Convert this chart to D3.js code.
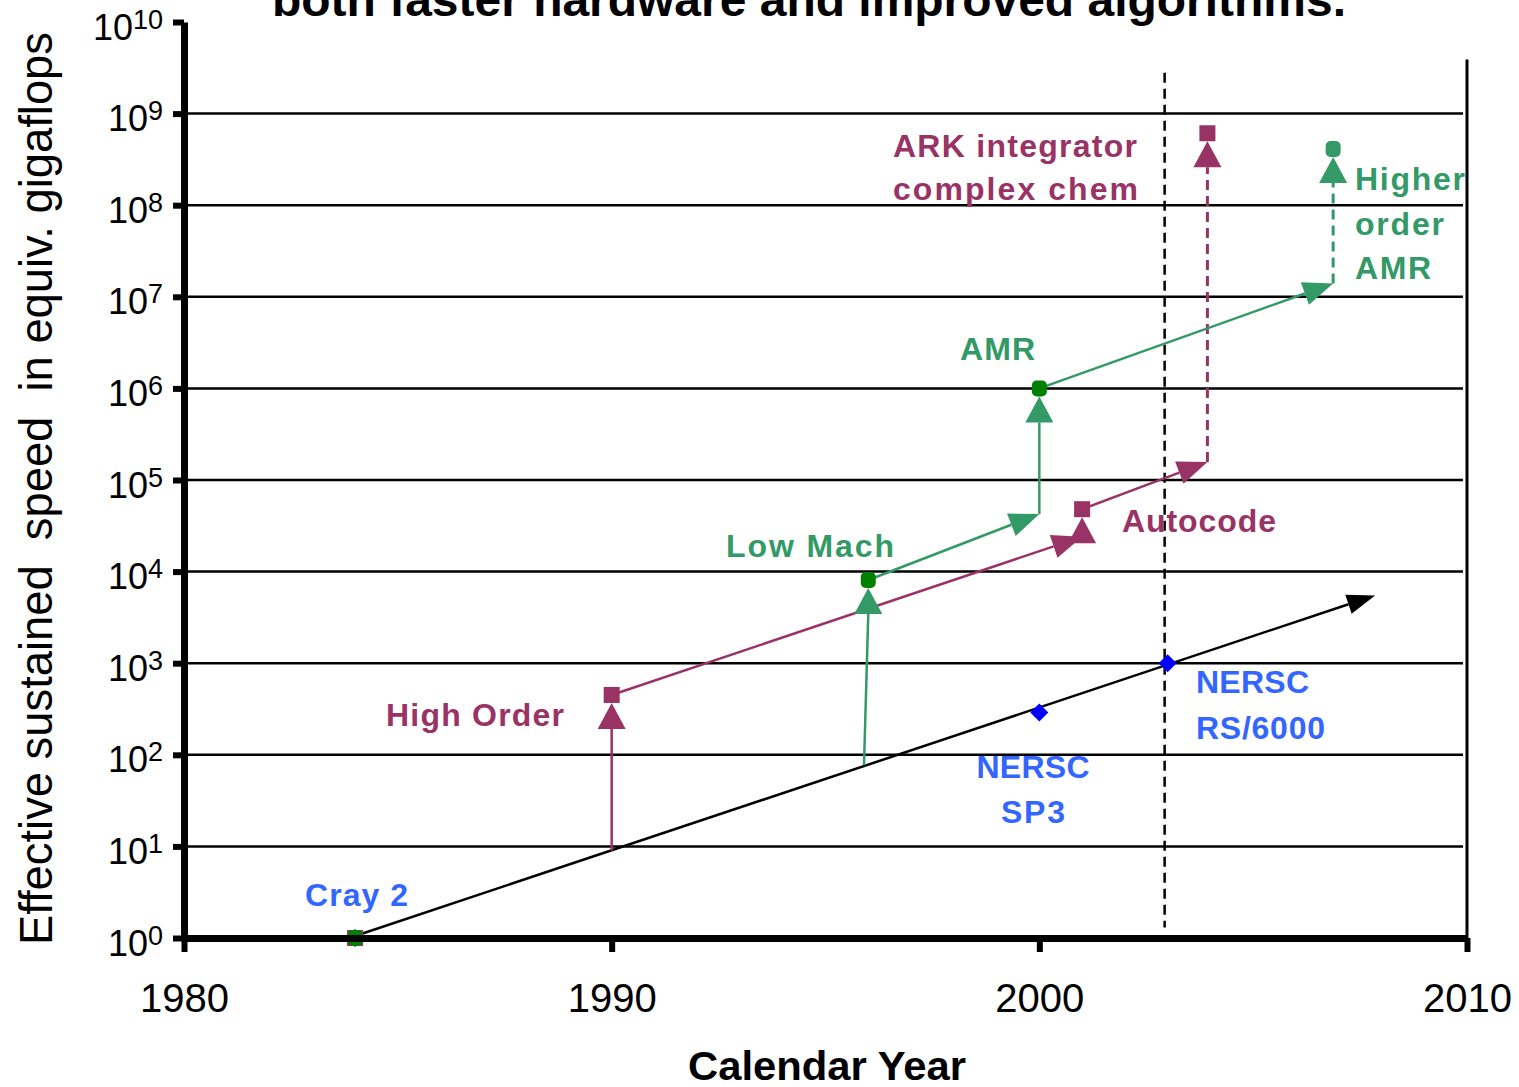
<!DOCTYPE html>
<html><head><meta charset="utf-8">
<script src="https://cdn.jsdelivr.net/npm/d3@7"></script>
<style>
html,body{margin:0;padding:0;background:#fff;}
svg{display:block;}
text{font-family:"Liberation Sans",Arial,Helvetica,sans-serif;}
</style></head><body>
<svg id="chart" width="1519" height="1087"></svg>
<script>
// ---------- data ----------
const yearTicks = [1980, 1990, 2000, 2010];
const decadeExponents = [0,1,2,3,4,5,6,7,8,9,10];
const hardwareYears = [1984, 2007.85];
const hardwareValues = [1, 5500];
const machineNames = [["Cray 2"], ["NERSC", "SP3"], ["NERSC", "RS/6000"]];
const machineYears = [1984, 2000, 2003];
const machineValues = [1, 290, 1000];
const highOrderYears = [1990, 1990, 2001, 2001, 2003.93, 2003.93];
const highOrderValues = [9, 450, 24000, 48000, 157000, 6.1e8];
const amrYears = [1995.9, 1996, 2000, 2000, 2006.87, 2006.87];
const amrValues = [77, 8100, 42600, 1e6, 1.4e7, 4.1e8];
const dividerYear = 2002.93;
const dividerValues = [1.3, 2.8e9];
const titleText = "both faster hardware and improved algorithms.";
const xTitle = "Calendar Year";
const yTitle = "Effective sustained  speed  in equiv. gigaflops";
const magentaLabels = [["High Order"], ["Autocode"], ["ARK integrator", "complex chem"]];
const greenLabels = [["Low Mach"], ["AMR"], ["Higher", "order", "AMR"]];

// ---------- layout / style ----------
const MAG = "#993366", GRN = "#339966", DKGRN = "#008000", BLUE_TXT = "#3366ff", BLUE = "#0000ff";
const svg = d3.select("#chart");
const x = d3.scaleLinear().domain([1980, 2010]).range([184, 1467]);
const y = d3.scaleLog().domain([1, 1e10]).range([938, 22]);

// title (partially cut at top, as in the reference)
svg.append("text").attr("x", 272).attr("y", 16)
  .attr("font-size", 46).attr("font-weight", "bold")
  .attr("textLength", 1074).attr("lengthAdjust", "spacingAndGlyphs")
  .text(titleText);

// gridlines
svg.append("g").selectAll("line")
  .data(decadeExponents.filter(e => e > 0 && e < 10))
  .join("line")
  .attr("x1", x(1980)).attr("x2", x(2010) - 4)
  .attr("y1", e => y(Math.pow(10, e))).attr("y2", e => y(Math.pow(10, e)))
  .attr("stroke", "#000").attr("stroke-width", 2.5);

// right frame
svg.append("line").attr("x1", x(2010)).attr("x2", x(2010))
  .attr("y1", y(3.9e9)).attr("y2", y(1))
  .attr("stroke", "#000").attr("stroke-width", 3);

// divider
svg.append("line").attr("x1", x(dividerYear)).attr("x2", x(dividerYear))
  .attr("y1", y(dividerValues[1])).attr("y2", y(dividerValues[0]))
  .attr("stroke", "#000").attr("stroke-width", 2.5).attr("stroke-dasharray", "10,6");

// helpers
function arrowHead(g, p1, p2, color, L, W) {
  const dx = p2[0] - p1[0], dy = p2[1] - p1[1];
  const len = Math.hypot(dx, dy);
  const ux = dx / len, uy = dy / len;
  const bx = p2[0] - ux * L, by = p2[1] - uy * L;
  const nx = -uy, ny = ux;
  g.append("path")
    .attr("d", `M${p2[0]},${p2[1]}L${bx + nx * W / 2},${by + ny * W / 2}L${bx - nx * W / 2},${by - ny * W / 2}Z`)
    .attr("fill", color);
  return [bx, by];
}
function upTriangle(g, cx, topY, color) {
  const apex = topY + 8, base = apex + 26;
  g.append("path").attr("d", `M${cx},${apex}L${cx + 14},${base}L${cx - 14},${base}Z`).attr("fill", color);
  return base;
}

// hardware line
const hw = svg.append("g");
{
  const p1 = [x(hardwareYears[0]), y(hardwareValues[0]) - 2];
  const p2 = [x(hardwareYears[1]), y(hardwareValues[1])];
  const b = arrowHead(hw, p1, p2, "#000", 28, 20);
  hw.append("line").attr("x1", p1[0]).attr("y1", p1[1]).attr("x2", b[0]).attr("y2", b[1])
    .attr("stroke", "#000").attr("stroke-width", 2.5);
}

// algorithm series
function drawSeries(years, values, color) {
  const g = svg.append("g");
  for (let i = 0; i < years.length - 1; i++) {
    const p1 = [x(years[i]), y(values[i])];
    const p2 = [x(years[i + 1]), y(values[i + 1])];
    if (Math.abs(years[i + 1] - years[i]) < 0.5) {
      const dashed = years[i] > dividerYear;
      const base = upTriangle(g, p2[0], p2[1], color);
      if (p1[1] > base) {
        g.append("line").attr("x1", p1[0]).attr("y1", p1[1]).attr("x2", p2[0]).attr("y2", base)
          .attr("stroke", color).attr("stroke-width", dashed ? 3 : 2.5)
          .attr("stroke-dasharray", dashed ? "10,6" : null);
      }
    } else {
      const b = arrowHead(g, p1, p2, color, 30, 24);
      g.append("line").attr("x1", p1[0]).attr("y1", p1[1]).attr("x2", b[0]).attr("y2", b[1])
        .attr("stroke", color).attr("stroke-width", 2.5);
    }
  }
  return g;
}
drawSeries(highOrderYears, highOrderValues, MAG);
drawSeries(amrYears, amrValues, GRN);

// machine diamonds
svg.append("g").selectAll("path")
  .data(machineYears.map((yr, i) => [yr, machineValues[i]]))
  .join("path")
  .attr("d", d => { const cx = x(d[0]), cy = y(d[1]); return `M${cx},${cy - 9}L${cx + 9},${cy}L${cx},${cy + 9}L${cx - 9},${cy}Z`; })
  .attr("fill", BLUE);

// magenta squares
const magPts = [[hardwareYears[0], hardwareValues[0]]].concat(
  highOrderYears.map((yr, i) => [yr, highOrderValues[i]]).filter((d, i) => i % 2 === 1));
svg.append("g").selectAll("rect").data(magPts).join("rect")
  .attr("x", d => x(d[0]) - 8).attr("y", d => y(d[1]) - 8)
  .attr("width", 16).attr("height", 16).attr("fill", MAG);

// green circles
const grnPts = [[hardwareYears[0], hardwareValues[0]]].concat(
  amrYears.map((yr, i) => [yr, amrValues[i]]).filter((d, i) => i % 2 === 1));
svg.append("g").selectAll("rect").data(grnPts).join("rect")
  .attr("x", d => x(d[0]) - 7.5).attr("y", d => y(d[1]) - 8)
  .attr("width", 15).attr("height", 16).attr("rx", 5)
  .attr("fill", d => d[0] > dividerYear ? GRN : DKGRN);

// axes
const yAxis = d3.axisLeft(y)
  .tickValues(decadeExponents.map(e => Math.pow(10, e)))
  .tickSize(11).tickSizeOuter(0).tickFormat(() => "");
const gy = svg.append("g").attr("transform", `translate(${x(1980)},0)`).call(yAxis);
gy.attr("font-family", null);
gy.select(".domain").attr("stroke-width", 7).attr("stroke", "#000");
gy.selectAll(".tick line").attr("stroke-width", 6).attr("stroke", "#000");
gy.selectAll(".tick text").each(function(d) {
  const t = d3.select(this);
  const e = Math.round(Math.log10(d));
  t.attr("x", -21).attr("dy", null).attr("y", 17).attr("text-anchor", "end").attr("fill", "#000");
  t.append("tspan").attr("font-size", 36).text("10");
  t.append("tspan").attr("font-size", 27).attr("dy", -11).text(String(e));
});

const xAxis = d3.axisBottom(x).tickValues(yearTicks).tickSize(14).tickSizeOuter(0).tickFormat(d3.format("d"));
const gx = svg.append("g").attr("transform", `translate(0,${y(1)})`).call(xAxis);
gx.attr("font-family", null);
gx.select(".domain").attr("stroke-width", 7).attr("stroke", "#000");
gx.selectAll(".tick line").attr("stroke-width", 6).attr("stroke", "#000");
gx.selectAll(".tick text").attr("y", 74).attr("dy", null).attr("font-size", 40).attr("fill", "#000");

// axis titles
svg.append("text").attr("x", 688).attr("y", 1080)
  .attr("font-size", 40).attr("font-weight", "bold")
  .attr("textLength", 278).attr("lengthAdjust", "spacingAndGlyphs").text(xTitle);
svg.append("text").attr("transform", "translate(52,945) rotate(-90)")
  .attr("font-size", 46).style("white-space", "pre")
  .attr("textLength", 913).attr("lengthAdjust", "spacingAndGlyphs").text(yTitle);

// annotations
function label(lines, color, left, baselines, widths, anchor) {
  lines.forEach((s, i) => {
    svg.append("text").attr("x", left).attr("y", baselines[i])
      .attr("font-size", 32).attr("font-weight", "bold").attr("fill", color)
      .attr("text-anchor", anchor || "start")
      .attr("textLength", widths[i]).attr("lengthAdjust", "spacing").text(s);
  });
}
label(magentaLabels[0], MAG, 386, [726], [178]);
label(magentaLabels[1], MAG, 1122, [532], [154]);
label(magentaLabels[2], MAG, 893, [157, 200], [244, 245]);
label(greenLabels[0], GRN, 726, [557], [168]);
label(greenLabels[1], GRN, 960, [360], [75]);
label(greenLabels[2], GRN, 1355, [190, 235, 279], [110, 89, 76]);
label(machineNames[0], BLUE_TXT, 305, [906], [103]);
label(machineNames[1], BLUE_TXT, 1033, [778, 823], [113, 64], "middle");
label(machineNames[2], BLUE_TXT, 1196, [693, 739], [113, 129]);
</script>
</body></html>
